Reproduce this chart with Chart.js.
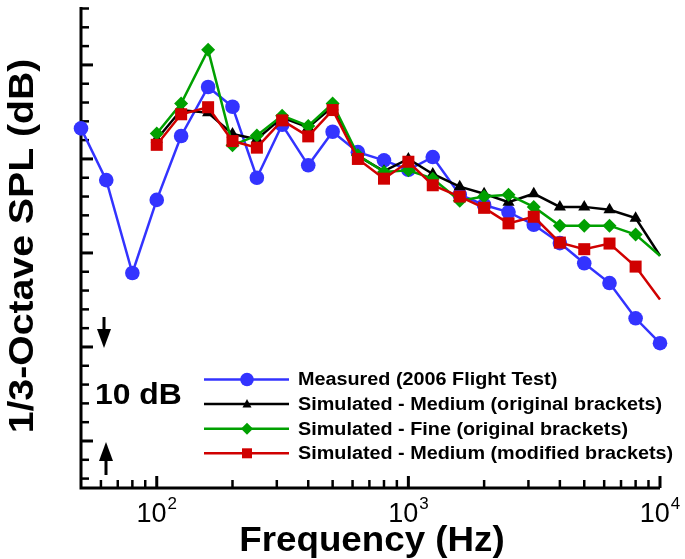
<!DOCTYPE html>
<html><head><meta charset="utf-8">
<script src="https://cdn.jsdelivr.net/npm/chart.js@4.4.1/dist/chart.umd.min.js"></script>
<style>html,body{margin:0;padding:0;background:#fff}#wrap{width:685px;height:559px;position:relative}canvas{display:block}</style>
</head><body><div id="wrap"><canvas id="c" width="685" height="559" style="width:685px;height:559px"></canvas></div>
<script>
// ---- data (1/3-octave band centre frequencies, Hz; SPL in dB, relative scale) ----
const measuredFreq = [50,63,80,100,125,160,200,250,315,400,500,630,800,1000,1250,1600,2000,2500,3150,4000,5000,6300,8000,10000];
const measuredSPL  = [83.25,77.75,67.87,75.64,82.44,87.65,85.55,78.0,83.63,79.32,82.89,80.72,79.85,78.85,80.2,76.2,75.1,74.35,73.0,71.05,68.9,66.8,63.05,60.4];
const simFreq = [100,125,160,200,250,315,400,500,630,800,1000,1250,1600,2000,2500,3150,4000,5000,6300,8000,10000];
const mediumOriginalSPL  = [82.1,85.2,84.9,82.65,82.1,84.4,83.35,85.55,80.3,78.7,80.0,78.4,77.05,76.3,75.4,76.3,74.9,74.9,74.6,73.7,69.7];
const fineOriginalSPL    = [82.7,85.9,91.6,81.45,82.5,84.6,83.5,85.9,80.4,78.6,78.8,77.9,75.55,76.0,76.2,74.9,72.9,72.9,72.9,71.95,69.7];
const mediumModifiedSPL  = [81.5,84.75,85.5,81.9,81.2,84.1,82.4,85.2,80.0,77.9,79.7,77.2,76.0,74.8,73.15,73.85,71.1,70.4,71.0,68.55,65.05];
const seriesLabels = ['Measured (2006 Flight Test)','Simulated - Medium (original brackets)','Simulated - Fine (original brackets)','Simulated - Medium (modified brackets)'];
const xMajorTicks = [100,1000,10000];
const xMinorTicks = [60,70,80,90,200,300,400,500,600,700,800,900,2000,3000,4000,5000,6000,7000,8000,9000];
const xTickLabels = [['10','2'],['10','3'],['10','4']];
const yMinorTicks = [46,48,52,54,56,58,62,64,66,68,72,74,76,78,82,84,86,88,92,94,96];
const yMajorTicks = [50,60,70,80,90];

const BLUE='#3333ff', BLACK='#000000', GREEN='#00a000', RED='#d00000';
const FONT='"Liberation Sans", Arial, Helvetica, sans-serif';

function pts(xs, ys){ return xs.map((x,i)=>({x:x, y:ys[i]})); }
function lastHidden(n, r){ const a = new Array(n).fill(r); a[n-1]=0; return a; }
// draw text stretched along its direction by factor k, anchored at left (align 'left') or centre
function stretchedText(ctx, txt, x, y, k, align){
  ctx.save(); ctx.translate(x, y); ctx.scale(k, 1); ctx.textAlign=align; ctx.fillText(txt, 0, 0); ctx.restore();
}

const axesPlugin = {
  id:'axesPlugin',
  beforeDatasetsDraw(chart){
    const ctx=chart.ctx, xs=chart.scales.x, ys=chart.scales.y;
    const L=xs.getPixelForValue(50), R=xs.getPixelForValue(10000);
    const T=ys.getPixelForValue(96), B=ys.getPixelForValue(45);
    ctx.save();
    ctx.strokeStyle='#000'; ctx.lineCap='butt';
    ctx.lineWidth=3;
    ctx.beginPath(); ctx.moveTo(L,T-1.5); ctx.lineTo(L,B); ctx.lineTo(R,B); ctx.stroke();
    ctx.lineWidth=2.5;
    yMinorTicks.forEach(v=>{const y=ys.getPixelForValue(v); ctx.beginPath(); ctx.moveTo(L,y); ctx.lineTo(L+8,y); ctx.stroke();});
    ctx.lineWidth=3;
    yMajorTicks.forEach(v=>{const y=ys.getPixelForValue(v); ctx.beginPath(); ctx.moveTo(L,y); ctx.lineTo(L+12,y); ctx.stroke();});
    ctx.lineWidth=2.5;
    xMinorTicks.forEach(v=>{const x=xs.getPixelForValue(v); ctx.beginPath(); ctx.moveTo(x,B); ctx.lineTo(x,B-8); ctx.stroke();});
    ctx.lineWidth=3;
    xMajorTicks.forEach(v=>{const x=xs.getPixelForValue(v); ctx.beginPath(); ctx.moveTo(x,B); ctx.lineTo(x,B-12); ctx.stroke();});
    ctx.fillStyle='#000'; ctx.textBaseline='alphabetic'; ctx.textAlign='left';
    xMajorTicks.forEach((v,i)=>{
      const x=xs.getPixelForValue(v);
      ctx.font='27px '+FONT; const w1=ctx.measureText(xTickLabels[i][0]).width;
      ctx.font='17px '+FONT; const w2=ctx.measureText(xTickLabels[i][1]).width;
      const x0=x-(w1+w2+1)/2;
      ctx.font='27px '+FONT; ctx.fillText(xTickLabels[i][0], x0, B+34);
      ctx.font='17px '+FONT; ctx.fillText(xTickLabels[i][1], x0+w1+1, B+21);
    });
    ctx.font='bold 35px '+FONT;
    stretchedText(ctx, 'Frequency (Hz)', 372, B+63, 1.05, 'center');
    ctx.save(); ctx.translate(33, 246); ctx.rotate(-Math.PI/2);
    stretchedText(ctx, '1/3-Octave SPL (dB)', 0, 0, 1.12, 'center'); ctx.restore();
    ctx.font='bold 29px '+FONT;
    stretchedText(ctx, '10 dB', 95, 404, 1.1, 'left');
    const yTop=ys.getPixelForValue(60), yBot=ys.getPixelForValue(50);
    ctx.lineWidth=3;
    ctx.beginPath(); ctx.moveTo(104, yTop-30); ctx.lineTo(104, yTop-14); ctx.stroke();
    ctx.beginPath(); ctx.moveTo(97, yTop-18); ctx.lineTo(111, yTop-18); ctx.lineTo(104, yTop+1); ctx.closePath(); ctx.fill();
    ctx.beginPath(); ctx.moveTo(106, yBot+34); ctx.lineTo(106, yBot+16); ctx.stroke();
    ctx.beginPath(); ctx.moveTo(99, yBot+20); ctx.lineTo(113, yBot+20); ctx.lineTo(106, yBot+1); ctx.closePath(); ctx.fill();
    ctx.restore();
  },
  afterDatasetsDraw(chart){
    const ctx=chart.ctx;
    const items=[{c:BLUE, s:'circle'},{c:BLACK,s:'triangle'},{c:GREEN,s:'diamond'},{c:RED,s:'square'}];
    ctx.save();
    items.forEach((it,i)=>{
      const y=379.5+i*24.6;
      ctx.strokeStyle=it.c; ctx.fillStyle=it.c; ctx.lineWidth=2.5;
      ctx.beginPath(); ctx.moveTo(204,y); ctx.lineTo(289,y); ctx.stroke();
      const cx=247;
      ctx.beginPath();
      if(it.s==='circle'){ ctx.arc(cx,y,6.8,0,Math.PI*2); }
      else if(it.s==='triangle'){ ctx.moveTo(cx,y-5); ctx.lineTo(cx+4.5,y+3.5); ctx.lineTo(cx-4.5,y+3.5); ctx.closePath(); }
      else if(it.s==='diamond'){ ctx.moveTo(cx,y-6); ctx.lineTo(cx+6,y); ctx.lineTo(cx,y+6); ctx.lineTo(cx-6,y); ctx.closePath(); }
      else { ctx.rect(cx-5,y-5,10,10); }
      ctx.fill();
      ctx.fillStyle='#000'; ctx.font='bold 18px '+FONT; ctx.textBaseline='middle';
      stretchedText(ctx, seriesLabels[i], 298, y+1, 1.1, 'left');
    });
    ctx.restore();
  }
};

new Chart(document.getElementById('c'), {
  type:'line',
  data:{
    datasets:[
      {label:seriesLabels[0], data:pts(measuredFreq,measuredSPL), borderColor:BLUE, backgroundColor:BLUE,
       borderWidth:2.5, pointStyle:'circle', pointRadius:7.3, pointBorderWidth:0, order:4, clip:false},
      {label:seriesLabels[1], data:pts(simFreq,mediumOriginalSPL), borderColor:BLACK, backgroundColor:BLACK,
       borderWidth:2.5, pointStyle:'triangle', pointRadius:lastHidden(simFreq.length,7), pointBorderWidth:0, order:3, clip:false},
      {label:seriesLabels[2], data:pts(simFreq,fineOriginalSPL), borderColor:GREEN, backgroundColor:GREEN,
       borderWidth:2.5, pointStyle:'rectRot', pointRadius:lastHidden(simFreq.length,7), pointBorderWidth:0, order:2, clip:false},
      {label:seriesLabels[3], data:pts(simFreq,mediumModifiedSPL), borderColor:RED, backgroundColor:RED,
       borderWidth:2.5, pointStyle:'rect', pointRadius:lastHidden(simFreq.length,8.5), pointBorderWidth:0, order:1, clip:false}
    ]
  },
  options:{
    responsive:false, animation:false, devicePixelRatio:1,
    layout:{padding:{left:81,right:25,top:3,bottom:71}},
    plugins:{legend:{display:false}, tooltip:{enabled:false}},
    elements:{line:{tension:0}},
    scales:{
      x:{type:'logarithmic', min:50, max:10000, display:false},
      y:{type:'linear', min:45, max:96, display:false}
    }
  },
  plugins:[axesPlugin]
});
</script>
</body></html>
